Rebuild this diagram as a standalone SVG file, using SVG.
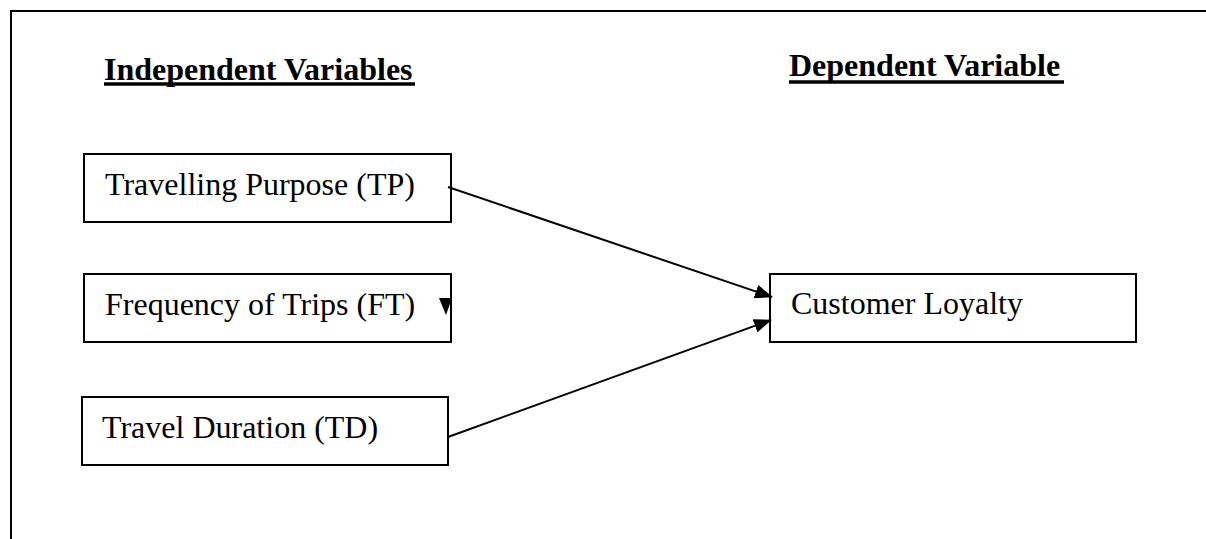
<svg xmlns="http://www.w3.org/2000/svg" width="1206" height="539" viewBox="0 0 1206 539">
<style>
.box{fill:#fff;stroke:#000;stroke-width:2}
.lbl{font-family:"Liberation Serif","Times New Roman",serif;font-size:32px;fill:#000}
.hd{font-family:"Liberation Serif","Times New Roman",serif;font-size:32px;font-weight:bold;fill:#000}
.ul{stroke:#000;stroke-width:3.5}
.conn{stroke:#000;stroke-width:2;fill:none}
</style>
<defs>
<marker id="ah" viewBox="0 0 18 14" refX="17" refY="7" markerWidth="18" markerHeight="14" markerUnits="userSpaceOnUse" orient="auto">
<path d="M0,0 L18,7 L0,14 z" fill="#000"/>
</marker>
</defs>
<rect width="1206" height="539" fill="#fff"/>
<g id="frame">
<path d="M11,539 L11,11 L1206,11" fill="none" stroke="#000" stroke-width="2"/>
</g>
<g id="heading-independent">
<text class="hd" x="104" y="80">Independent Variables</text>
<line class="ul" x1="104" y1="84" x2="415" y2="84"/>
</g>
<g id="heading-dependent">
<text class="hd" x="789" y="76">Dependent Variable</text>
<line class="ul" x1="789" y1="82" x2="1064" y2="82"/>
</g>
<g id="node-tp">
<rect class="box" x="84" y="154" width="367" height="68"/>
<text class="lbl" x="105" y="195">Travelling Purpose (TP)</text>
</g>
<g id="node-ft">
<rect class="box" x="84" y="274" width="367" height="68"/>
<text class="lbl" x="105" y="315">Frequency of Trips (FT)</text>
</g>
<g id="node-td">
<rect class="box" x="82" y="397" width="366" height="68"/>
<text class="lbl" x="102" y="438">Travel Duration (TD)</text>
</g>
<g id="node-cl">
<rect class="box" x="770" y="274" width="366" height="68"/>
<text class="lbl" x="791" y="314">Customer Loyalty</text>
</g>
<g id="connectors">
<line class="conn" x1="448" y1="187" x2="772" y2="297" marker-end="url(#ah)"/>
<line class="conn" x1="448" y1="437" x2="771" y2="320" marker-end="url(#ah)"/>
<polygon points="439,298 452,298 446,315" fill="#000"/>
</g>
</svg>
